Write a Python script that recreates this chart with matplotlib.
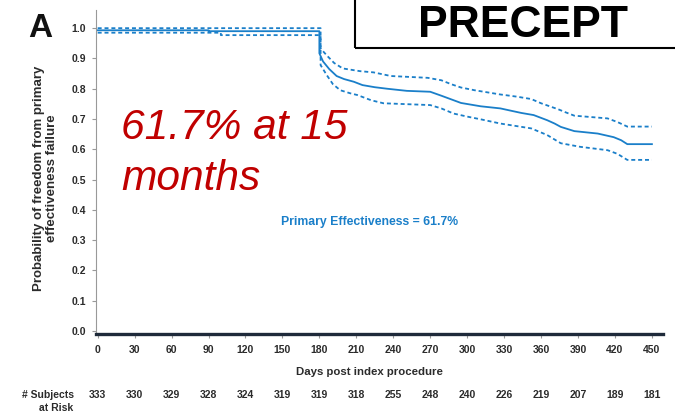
import matplotlib.pyplot as plt
from matplotlib.patches import Rectangle
from matplotlib.transforms import blended_transform_factory

# Kaplan-Meier estimate (days, survival); repeated days mark vertical drops
km_days = [0, 90, 90, 180, 180, 183, 188, 194, 200, 208, 215, 225, 235, 251, 270, 279, 287,
           295, 311, 327, 336, 344, 354, 365, 371, 376, 387, 406, 419, 425, 430, 450]
km_surv = [0.993, 0.993, 0.99, 0.99, 0.917, 0.89, 0.865, 0.842, 0.832, 0.823, 0.812, 0.805,
           0.80, 0.793, 0.79, 0.777, 0.765, 0.753, 0.742, 0.735, 0.727, 0.72, 0.713, 0.696,
           0.685, 0.674, 0.66, 0.652, 0.64, 0.63, 0.617, 0.617]

upper_days = [0, 181, 181, 186, 192, 199, 213, 224, 238, 268, 279, 287, 295, 306, 327, 340,
              352, 360, 374, 380, 387, 414, 422, 430, 450]
upper_surv = [1.0, 1.0, 0.933, 0.91, 0.885, 0.867, 0.858, 0.854, 0.842, 0.836, 0.828, 0.815,
              0.804, 0.795, 0.781, 0.774, 0.766, 0.752, 0.732, 0.722, 0.711, 0.702, 0.69,
              0.675, 0.675]

lower_days = [0, 100, 100, 181, 181, 186, 191, 197, 205, 211, 222, 232, 270, 279, 289, 300,
              311, 327, 352, 365, 376, 392, 414, 422, 430, 450]
lower_surv = [0.985, 0.985, 0.977, 0.977, 0.878, 0.845, 0.815, 0.795, 0.785, 0.779, 0.762,
              0.752, 0.746, 0.735, 0.718, 0.708, 0.699, 0.685, 0.669, 0.647, 0.62, 0.608,
              0.597, 0.585, 0.565, 0.565]

x_ticks = [0, 30, 60, 90, 120, 150, 180, 210, 240, 270, 300, 330, 360, 390, 420, 450]
at_risk = [333, 330, 329, 328, 324, 319, 319, 318, 255, 248, 240, 226, 219, 207, 189, 181]
y_ticks = [0.0, 0.1, 0.2, 0.3, 0.4, 0.5, 0.6, 0.7, 0.8, 0.9, 1.0]

blue = '#1a7fc9'
dark = '#2b2b2b'
narrow = ['Liberation Sans Narrow', 'Liberation Sans', 'DejaVu Sans']
arial = ['Liberation Sans', 'DejaVu Sans']

W, H = 675, 415


def fx(px):
    return px / W


def fy(py):
    return 1 - py / H


fig = plt.figure(figsize=(6.75, 4.15), dpi=100)
ax = fig.add_axes([fx(95.7), fy(333.7), 567.3 / W, 323.7 / H])

dash = (0, (2.2, 1.6))
ax.plot(km_days, km_surv, color=blue, lw=1.3)
ax.plot(upper_days, upper_surv, color=blue, lw=1.3, linestyle=dash)
ax.plot(lower_days, lower_surv, color=blue, lw=1.3, linestyle=dash)

ax.set_xlim(-1.6, 459)
ax.set_ylim(-0.009, 1.06)
ax.set_xticks(x_ticks)
ax.set_yticks(y_ticks)
ax.set_yticklabels([f'{v:.1f}' for v in y_ticks])

for lab in ax.get_xticklabels() + ax.get_yticklabels():
    lab.set_family(narrow)
    lab.set_fontweight('bold')
    lab.set_fontsize(7.5)
    lab.set_color(dark)

ax.tick_params(axis='both', color='#999999', length=3, width=0.8)
ax.tick_params(axis='x', pad=5)
ax.tick_params(axis='y', pad=4)
ax.spines['top'].set_visible(False)
ax.spines['right'].set_visible(False)
ax.spines['left'].set_color('#999999')
ax.spines['left'].set_linewidth(0.8)
ax.spines['bottom'].set_color('#1f2a3a')
ax.spines['bottom'].set_linewidth(2.4)

fig.text(fx(369.5), fy(372), 'Days post index procedure', ha='center', va='center',
         family=narrow, fontweight='bold', fontsize=8.2, color=dark)
fig.text(fx(45.5), fy(178), 'Probability of freedom from primary\neffectiveness failure',
         rotation=90, ha='center', va='center', multialignment='center', family=narrow,
         fontweight='bold', fontsize=9.5, color=dark, linespacing=1.1)

# numbers at risk under each tick
risk_tf = blended_transform_factory(ax.transData, fig.transFigure)
for d, n in zip(x_ticks, at_risk):
    ax.text(d, fy(394.5), str(n), transform=risk_tf, ha='center', va='center',
            family=narrow, fontweight='bold', fontsize=7.5, color=dark, clip_on=False)
fig.text(fx(74), fy(394.5), '# Subjects', ha='right', va='center',
         family=narrow, fontweight='bold', fontsize=7.5, color=dark)
fig.text(fx(73), fy(408), 'at Risk', ha='right', va='center',
         family=narrow, fontweight='bold', fontsize=7.5, color=dark)

fig.text(fx(369.5), fy(221.7), 'Primary Effectiveness = 61.7%', ha='center', va='center',
         family=narrow, fontweight='bold', fontsize=8.8, color=blue)

# big callout
fig.text(fx(121), fy(139), '61.7% at 15', ha='left', va='baseline', family=arial,
         style='italic', fontsize=30.6, color='#c00000')
fig.text(fx(121), fy(190), 'months', ha='left', va='baseline', family=arial,
         style='italic', fontsize=30.6, color='#c00000')

fig.text(fx(28), fy(37), 'A', ha='left', va='baseline', family=arial,
         fontweight='bold', fontsize=24, color='#111111')

# title box
fig.patches.append(Rectangle((fx(355), fy(48)), 330 / W, 60 / H,
                             transform=fig.transFigure, fill=False, edgecolor='black',
                             lw=1.5, figure=fig))
fig.text(fx(523), fy(37), 'PRECEPT', ha='center', va='baseline', family=arial,
         fontweight='bold', fontsize=32, color='black')

fig.savefig('out.png', dpi=100)
